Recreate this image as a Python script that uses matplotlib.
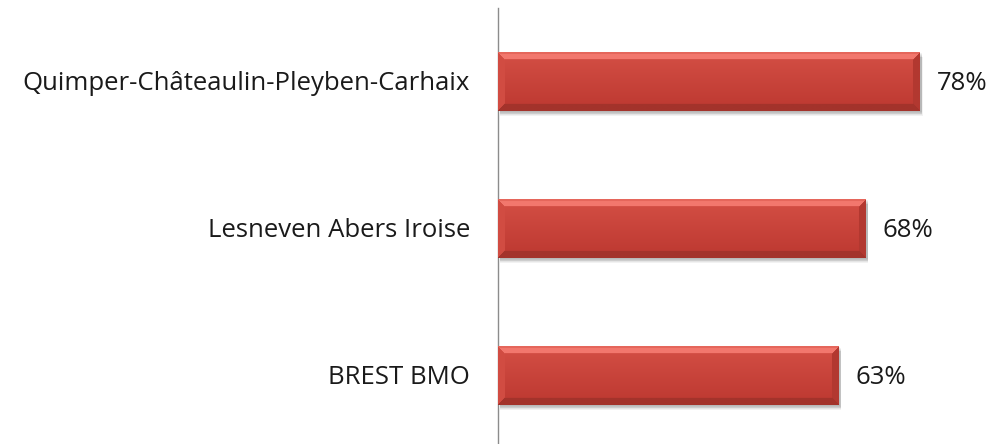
import numpy as np
import matplotlib
matplotlib.use("Agg")
import matplotlib.pyplot as plt
from matplotlib.patches import Rectangle

# data
categories = ["Quimper-Châteaulin-Pleyben-Carhaix", "Lesneven Abers Iroise", "BREST BMO"]
values = [78, 68, 63]
value_labels = ["78%", "68%", "63%"]

plt.rcParams["font.family"] = ["Open Sans", "DejaVu Sans"]

W, H = 995, 444
fig = plt.figure(figsize=(W / 100, H / 100), dpi=100)
ax = fig.add_axes([498 / W, -5 / H, 497 / W, 441 / H])
ax.set_xlim(0, 497 / 5.41)
ax.set_ylim(2.5, -0.5)

pos = np.arange(len(categories))
bars = ax.barh(pos, values, height=0.4, color="#c9403a", zorder=2)

fig.canvas.draw()
for b in bars:
    x0, y0 = b.get_x(), b.get_y()
    w, h = b.get_width(), b.get_height()
    p0 = ax.transData.transform((x0, y0))
    p1 = ax.transData.transform((x0 + w, y0 + h))
    nx = int(abs(p1[0] - p0[0]))
    ny = int(abs(p1[1] - p0[1]))
    # row 0 = top of bar on screen
    yy, xx = np.mgrid[0:ny, 0:nx].astype(float)
    t = yy / (ny - 1)
    light = np.array([0.83, 0.31, 0.27])
    dark = np.array([0.74, 0.22, 0.19])
    img = light[None, None, :] * (1 - t[..., None]) + dark[None, None, :] * t[..., None]
    bev = 7.0
    dt, db = yy, ny - 1 - yy
    dl, dr = xx, nx - 1 - xx
    dmin = np.minimum(np.minimum(dt, db), np.minimum(dl, dr))
    top = (dt == dmin) & (dt < bev)
    bot = (db == dmin) & (db < bev) & ~top
    lft = (dl == dmin) & (dl < bev) & ~top & ~bot
    rgt = (dr == dmin) & (dr < bev) & ~top & ~bot & ~lft
    img[top] = [0.95, 0.47, 0.43]
    img[top & (dt < 2)] = [0.90, 0.40, 0.36]
    img[bot] = [0.64, 0.20, 0.17]
    img[lft] = [0.82, 0.30, 0.26]
    img[rgt] = [0.70, 0.22, 0.19]
    ax.imshow(img, extent=(x0, x0 + w, y0 + h, y0), aspect="auto",
              interpolation="bilinear", zorder=3)
    # soft shadow under the bar
    for k in range(6):
        off = (k + 1) * 0.006
        ax.add_patch(Rectangle((x0 + 0.3, y0 + off), w + 0.2 * k / 6, h,
                               color="black", alpha=0.05, lw=0, zorder=1))

for i, (v, lab) in enumerate(zip(values, value_labels)):
    ax.annotate(lab, xy=(v, i), xytext=(17, -2), textcoords="offset pixels",
                ha="left", va="center", fontsize=18.5, color="#1a1a1a")
for i, c in enumerate(categories):
    ax.annotate(c, xy=(0, i), xytext=(-28, -2), textcoords="offset pixels",
                ha="right", va="center", fontsize=18.5, color="#1a1a1a",
                annotation_clip=False)

for s in ["top", "right", "bottom"]:
    ax.spines[s].set_visible(False)
ax.spines["left"].set_color("#8c8c8c")
ax.spines["left"].set_linewidth(1)
ax.set_xticks([])
ax.set_yticks([])
ax.patch.set_alpha(0)

fig.savefig("out.png", dpi=100)
